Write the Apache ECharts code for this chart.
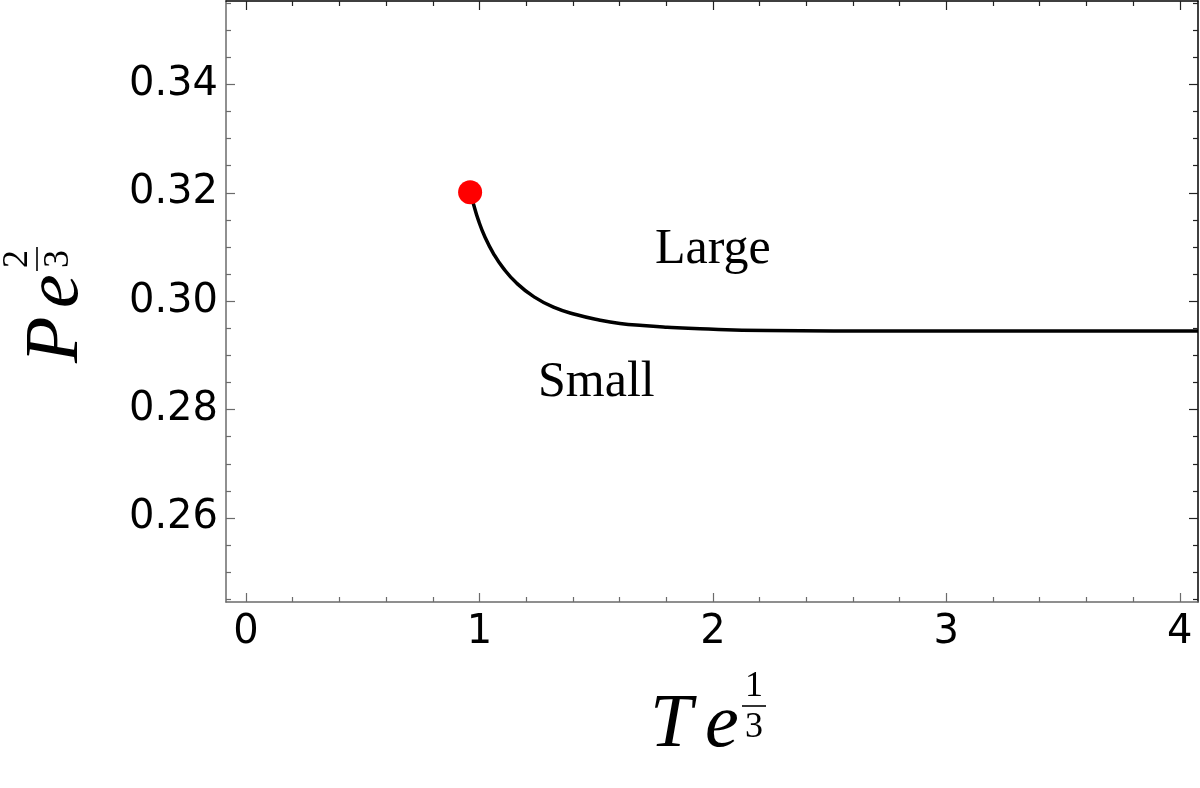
<!DOCTYPE html>
<html>
<head>
<meta charset="utf-8">
<script src="https://cdn.jsdelivr.net/npm/echarts@6/dist/echarts.min.js"></script>
<style>
  html, body { margin: 0; padding: 0; background: #fff; }
  #chart { width: 1200px; height: 788px; }
</style>
</head>
<body>
<div id="chart"></div>
<script>
// phase boundary curve
var curveX = [0.960, 0.974, 0.995, 1.024, 1.060, 1.102, 1.160, 1.231, 1.317, 1.417, 1.517, 1.602, 1.700, 1.804, 1.945, 2.232, 2.802, 3.500, 4.078];
var curveY = [0.3201, 0.3180, 0.3150, 0.3118, 0.3088, 0.3061, 0.3033, 0.3009, 0.2989, 0.2975, 0.2965, 0.2959, 0.2955, 0.2952, 0.2949, 0.2946, 0.2945, 0.2945, 0.2945];

// critical point
var critX = [0.960];
var critY = [0.3201];

// region labels
var noteX = [1.752, 1.251];
var noteY = [0.3094, 0.2849];
var noteText = ['Large', 'Small'];

// ticks
var xMajor = [0, 1, 2, 3, 4];
var xTickLabels = ['0', '1', '2', '3', '4'];
var xMinor = [0.2, 0.4, 0.6, 0.8, 1.2, 1.4, 1.6, 1.8, 2.2, 2.4, 2.6, 2.8, 3.2, 3.4, 3.6, 3.8];
var yMajor = [0.26, 0.28, 0.30, 0.32, 0.34];
var yTickLabels = ['0.26', '0.28', '0.30', '0.32', '0.34'];
var yMinor = [0.245, 0.25, 0.255, 0.265, 0.27, 0.275, 0.285, 0.29, 0.295, 0.305, 0.31, 0.315, 0.325, 0.33, 0.335, 0.345, 0.35, 0.355];

var X_MIN = -0.0857, X_MAX = 4.078;
var Y_MIN = 0.2445, Y_MAX = 0.3554;

var curve = curveX.map(function (x, i) { return [x, curveY[i]]; });
var crit = critX.map(function (x, i) { return [x, critY[i]]; });
var notes = noteX.map(function (x, i) { return [x, noteY[i], noteText[i]]; });

var grayLine = { color: '#6b6b6b', width: 1.5 };
var darkLine = { color: '#000', width: 1.5 };
var serif = '"Liberation Serif", "DejaVu Serif", serif';

function xAx(pos, major, line, showLabel) {
    return {
        type: 'value', position: pos, offset: 0, min: X_MIN, max: X_MAX,
        axisLine: line ? { show: true, onZero: false, lineStyle: line } : { show: false, onZero: false },
        axisTick: { show: true, inside: true, length: major ? 9 : 5, customValues: major ? xMajor : xMinor,
            lineStyle: { color: pos == 'top' ? '#222' : '#6b6b6b', width: 1.2 } },
        axisLabel: {
            show: showLabel, customValues: xMajor, margin: 11,
            fontSize: 40, fontFamily: '"DejaVu Sans"', color: '#000',
            formatter: function (v) { return xTickLabels[xMajor.indexOf(v)]; }
        },
        splitLine: { show: false }
    };
}
function yAx(pos, major, line, showLabel) {
    return {
        type: 'value', position: pos, offset: 0, min: Y_MIN, max: Y_MAX,
        axisLine: line ? { show: true, onZero: false, lineStyle: line } : { show: false, onZero: false },
        axisTick: { show: true, inside: true, length: major ? 9 : 5, customValues: major ? yMajor : yMinor,
            lineStyle: { color: pos == 'right' ? '#222' : '#6b6b6b', width: 1.2 } },
        axisLabel: {
            show: showLabel, customValues: yMajor, margin: 8,
            fontSize: 40, fontFamily: '"DejaVu Sans"', color: '#000',
            formatter: function (v) {
                for (var i = 0; i < yMajor.length; i++) if (Math.abs(yMajor[i] - v) < 1e-9) return yTickLabels[i];
                return '';
            }
        },
        splitLine: { show: false }
    };
}

// axis title: base letter, e, and a stacked fraction exponent
function axisTitle(x, y, rot, base, num, den) {
    var big = 'italic 76px ' + serif;
    var small = '36px ' + serif;
    return {
        type: 'group', x: x, y: y, rotation: rot,
        children: [
            { type: 'text', x: 0, y: -26, style: { text: base, font: big, fill: '#000', align: 'left', verticalAlign: 'middle' } },
            { type: 'text', x: 55, y: -26, style: { text: 'e', font: big, fill: '#000', align: 'left', verticalAlign: 'middle' } },
            { type: 'text', x: 104, y: -65, style: { text: num, font: small, fill: '#000', align: 'center', verticalAlign: 'middle' } },
            { type: 'line', shape: { x1: 92, y1: -46, x2: 116, y2: -46 }, style: { stroke: '#000', lineWidth: 1.6 } },
            { type: 'text', x: 104, y: -24, style: { text: den, font: small, fill: '#000', align: 'center', verticalAlign: 'middle' } }
        ]
    };
}

var chart = echarts.init(document.getElementById('chart'), null, { renderer: 'canvas' });
chart.setOption({
    animation: false,
    backgroundColor: '#fff',
    grid: { left: 226, right: 2, top: 1, bottom: 186, containLabel: false },
    xAxis: [
        xAx('bottom', true, grayLine, true),
        xAx('bottom', false, null, false),
        xAx('top', true, darkLine, false),
        xAx('top', false, null, false)
    ],
    yAxis: [
        yAx('left', true, grayLine, true),
        yAx('left', false, null, false),
        yAx('right', true, darkLine, false),
        yAx('right', false, null, false)
    ],
    series: [
        {
            name: 'boundary', type: 'line', data: curve,
            showSymbol: false, smooth: 0.5, clip: true,
            lineStyle: { color: '#000', width: 3.5 }, z: 3
        },
        {
            name: 'critical', type: 'scatter', data: crit,
            symbol: 'circle', symbolSize: 24,
            itemStyle: { color: '#ff0000', opacity: 1 }, z: 4
        },
        {
            name: 'notes', type: 'scatter', data: notes,
            symbolSize: 0, silent: true,
            itemStyle: { opacity: 1 },
            label: {
                show: true, position: [0, 0], align: 'left', verticalAlign: 'middle',
                formatter: function (p) { return p.value[2]; },
                fontSize: 50, fontFamily: serif, color: '#000', opacity: 1
            }
        }
    ],
    graphic: [
        axisTitle(650, 752, 0, 'T', '1', '3'),
        axisTitle(83, 363, Math.PI / 2, 'P', '2', '3')
    ]
});
</script>
</body>
</html>
